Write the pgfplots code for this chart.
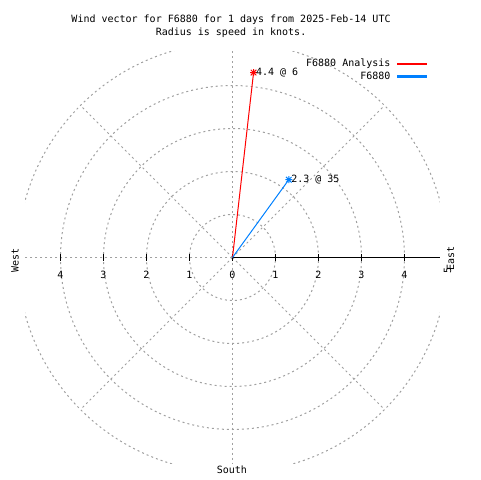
\documentclass[border=0pt]{standalone}
\usepackage{pgfplots}
\pgfplotsset{compat=1.18}
\usepackage{fontspec}
\setmainfont{DejaVu Sans Mono}
\definecolor{gridgray}{RGB}{160,160,160}
\definecolor{gblue}{RGB}{0,128,255}
\definecolor{gred}{RGB}{255,0,0}
\pgfdeclareplotmark{gstar}{%
  \pgfpathmoveto{\pgfqpoint{-\pgfplotmarksize}{0pt}}\pgfpathlineto{\pgfqpoint{\pgfplotmarksize}{0pt}}%
  \pgfpathmoveto{\pgfqpoint{0pt}{-\pgfplotmarksize}}\pgfpathlineto{\pgfqpoint{0pt}{\pgfplotmarksize}}%
  \pgfpathmoveto{\pgfqpoint{-0.8\pgfplotmarksize}{-0.8\pgfplotmarksize}}\pgfpathlineto{\pgfqpoint{0.8\pgfplotmarksize}{0.8\pgfplotmarksize}}%
  \pgfpathmoveto{\pgfqpoint{-0.8\pgfplotmarksize}{0.8\pgfplotmarksize}}\pgfpathlineto{\pgfqpoint{0.8\pgfplotmarksize}{-0.8\pgfplotmarksize}}%
  \pgfusepathqstroke}
\tikzset{gridline/.style={gridgray, line width=0.75pt, dash pattern=on 1.5pt off 2.25pt},
  rtick/.style={black, line width=0.75pt}}
\begin{document}
\begin{tikzpicture}[font=\fontsize{7.5}{9}\selectfont]
\begin{axis}[
  at={(0,0)}, anchor=center,
  x=32.25pt, y=32.25pt,
  xmin=-4.82, xmax=4.82, ymin=-4.78, ymax=4.78,
  hide axis, clip=true,
  legend plot pos=right,
  legend cell align=right,
  legend style={at={(axis cs:4.52,4.64)}, anchor=north east, draw=none, fill=none,
    font=\fontsize{7.5}{9}\selectfont, inner sep=0pt, row sep=1.2pt,
    nodes={inner sep=0.6pt}, column sep=4pt},
]
% grid circles
\draw[gridline] (axis cs:0,0) circle[radius=32.25pt];
\draw[gridline] (axis cs:0,0) circle[radius=64.5pt];
\draw[gridline] (axis cs:0,0) circle[radius=96.75pt];
\draw[gridline] (axis cs:0,0) circle[radius=129pt];
\draw[gridline] (axis cs:0,0) circle[radius=161.25pt];
% spokes
\draw[gridline] (axis cs:0,0) -- (axis cs:0,5);
\draw[gridline] (axis cs:0,0) -- (axis cs:0,-5);
\draw[gridline] (axis cs:0,0) -- (axis cs:-5,0);
\draw[gridline] (axis cs:0,0) -- (axis cs:3.5355,3.5355);
\draw[gridline] (axis cs:0,0) -- (axis cs:-3.5355,3.5355);
\draw[gridline] (axis cs:0,0) -- (axis cs:-3.5355,-3.5355);
\draw[gridline] (axis cs:0,0) -- (axis cs:3.5355,-3.5355);
% east axis line and ticks
\draw[black, line width=0.75pt] (axis cs:0,0) -- (axis cs:5,0);
\draw[rtick] (axis cs:-4,-0.07) -- (axis cs:-4,0.07);
\draw[rtick] (axis cs:-3,-0.07) -- (axis cs:-3,0.07);
\draw[rtick] (axis cs:-2,-0.07) -- (axis cs:-2,0.07);
\draw[rtick] (axis cs:-1,-0.07) -- (axis cs:-1,0.07);
\draw[rtick] (axis cs:0,-0.07) -- (axis cs:0,0.07);
\draw[rtick] (axis cs:1,-0.07) -- (axis cs:1,0.07);
\draw[rtick] (axis cs:2,-0.07) -- (axis cs:2,0.07);
\draw[rtick] (axis cs:3,-0.07) -- (axis cs:3,0.07);
\draw[rtick] (axis cs:4,-0.07) -- (axis cs:4,0.07);
\node at (axis cs:0,-0.4) {0};
\node at (axis cs:1,-0.4) {1};
\node at (axis cs:2,-0.4) {2};
\node at (axis cs:3,-0.4) {3};
\node at (axis cs:4,-0.4) {4};
\node at (axis cs:-1,-0.4) {1};
\node at (axis cs:-2,-0.4) {2};
\node at (axis cs:-3,-0.4) {3};
\node at (axis cs:-4,-0.4) {4};
% data
\addplot[gred, line width=0.75pt, mark=none,
  legend image code/.code={\fill[gred] (0pt,-0.5pt) rectangle (21.75pt,0.5pt);}]
  coordinates {(0,0) (0.49,4.30)};
\addlegendentry{F6880 Analysis}
\addplot[gblue, line width=0.75pt, mark=none,
  legend image code/.code={\fill[gblue] (0pt,-0.5pt) rectangle (21.75pt,0.5pt);}]
  coordinates {(0,0) (1.31,1.81)};
\addlegendentry{F6880}
\addplot[gred, line width=0.75pt, only marks, mark=gstar, mark size=2.6pt, forget plot,
  point meta=explicit symbolic, nodes near coords,
  every node near coord/.append style={anchor=west, black, inner sep=0pt, xshift=1.5pt, font=\fontsize{7.5}{9}\selectfont}]
  coordinates {(0.49,4.30) [4.4 @ 6]};
\addplot[gblue, line width=0.75pt, only marks, mark=gstar, mark size=2.6pt, forget plot,
  point meta=explicit symbolic, nodes near coords,
  every node near coord/.append style={anchor=west, black, inner sep=0pt, xshift=1.5pt, font=\fontsize{7.5}{9}\selectfont}]
  coordinates {(1.31,1.81) [2.3 @ 35]};
\end{axis}
% outer labels
\node at (-1.1pt,178.1pt) {Wind vector for F6880 for 1 days from 2025-Feb-14 UTC};
\node at (-1.1pt,168.4pt) {Radius is speed in knots.};
\node[rotate=90] at (-163.1pt,-1.9pt) {West};
\node[rotate=90] at (163.5pt,-0.4pt) {East};
\node[rotate=90] at (161.3pt,-10pt) {5};
\node at (-0.4pt,-159.4pt) {South};
\pgfresetboundingbox
\path (-174.375pt,-166.875pt) rectangle (185.625pt,193.125pt);
\end{tikzpicture}
\end{document}
